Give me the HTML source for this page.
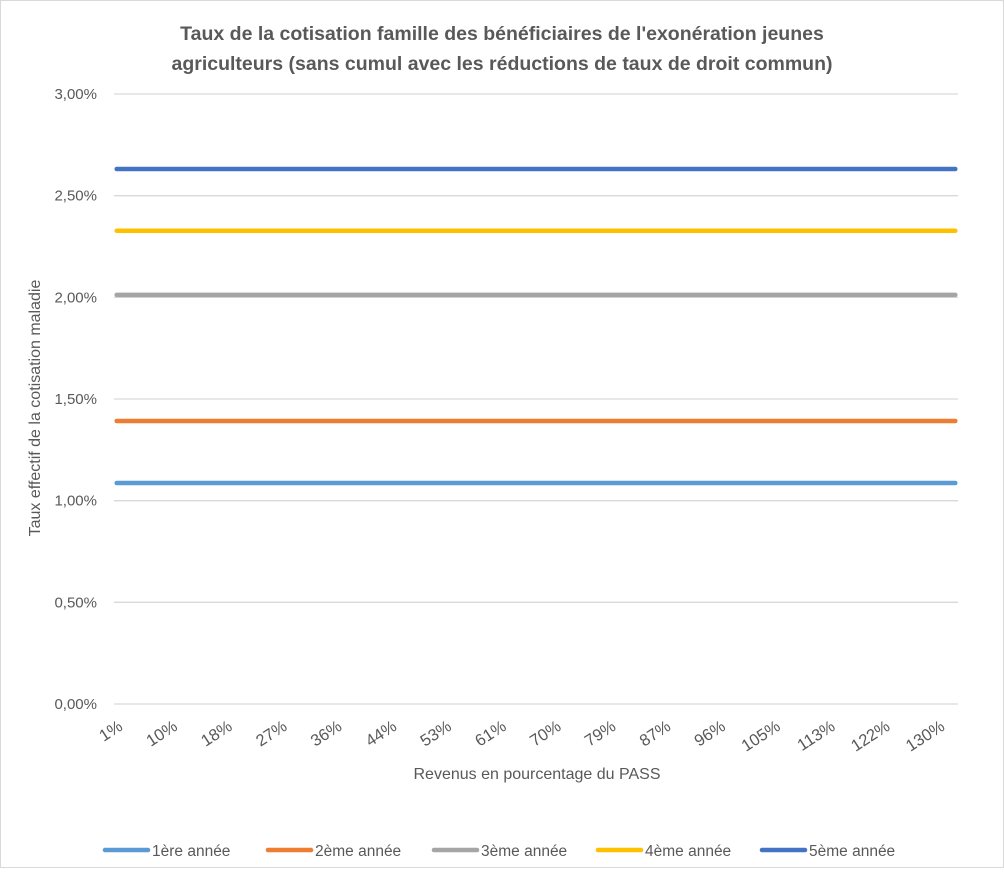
<!DOCTYPE html>
<html><head><meta charset="utf-8"><style>
body{margin:0;background:#fff}
#c{position:absolute;left:0;top:0;width:1004px;height:868px;font-family:"Liberation Sans",sans-serif}
</style></head><body>
<div id="c">
<svg id="s" width="1004" height="868" xmlns="http://www.w3.org/2000/svg">
<rect x="0.5" y="0.5" width="1003" height="867" fill="#fff" stroke="#d9d9d9"/>
<text x="502" y="40" text-anchor="middle" font-size="19.5" font-weight="bold" fill="#595959">Taux de la cotisation famille des bénéficiaires de l'exonération jeunes</text>
<text x="502" y="70" text-anchor="middle" font-size="19.5" font-weight="bold" fill="#595959">agriculteurs (sans cumul avec les réductions de taux de droit commun)</text>
<text transform="translate(40,408) rotate(-90)" text-anchor="middle" font-size="16" fill="#595959">Taux effectif de la cotisation maladie</text>
<text x="537" y="779" text-anchor="middle" font-size="16" fill="#595959">Revenus en pourcentage du PASS</text>
<g id="grid"></g><g id="yt"></g><g id="xt"></g><g id="lines"></g><g id="legend"></g>
</svg></div>
<script>
const yTicks=[0,0.5,1,1.5,2,2.5,3];
const xTickLabels=["1%","10%","18%","27%","36%","44%","53%","61%","70%","79%","87%","96%","105%","113%","122%","130%"];
const seriesNames=["1ère année","2ème année","3ème année","4ème année","5ème année"];
const seriesRates=[1.087,1.392,2.012,2.327,2.631];
const nCategories=154;
const labelEvery=10;
const colors=["#5b9bd5","#ed7d31","#a5a5a5","#ffc000","#4472c4"];
const NS="http://www.w3.org/2000/svg";
const X0=114,X1=958,Y0=704,Y1=94,YMAX=3;
const y=v=>Y0-(v/YMAX)*(Y0-Y1);
const step=(X1-X0)/nCategories;
const x=i=>X0+(i+0.5)*step;
function mk(t,a,p){const e=document.createElementNS(NS,t);for(const k in a)e.setAttribute(k,a[k]);p.appendChild(e);return e;}
const g=document.getElementById('grid'),yt=document.getElementById('yt'),xt=document.getElementById('xt'),ln=document.getElementById('lines'),lg=document.getElementById('legend');
yTicks.forEach(v=>{
 const l=mk('line',{x1:X0,x2:X1,y1:y(v),y2:y(v),stroke:'#d9d9d9','stroke-width':1.3},g);
 
 
 const t=mk('text',{x:97,y:y(v)+5,'text-anchor':'end','font-size':15,fill:'#595959'},yt);
 t.textContent=v.toFixed(2).replace('.',',')+'%';
 
 
});
xTickLabels.forEach((s,i)=>{
 const px=x(i*labelEvery);
 const t=mk('text',{transform:`translate(${px+7},${729}) rotate(-33)`,'text-anchor':'end','font-size':16.5,fill:'#595959'},xt);
 t.textContent=s;
 
 
});
seriesRates.forEach((r,si)=>{
 const vals=new Array(nCategories).fill(r);
 const pts=vals.map((v,i)=>x(i).toFixed(1)+','+y(v).toFixed(1)).join(' ');
 const p=mk('polyline',{points:pts,fill:'none',stroke:colors[si],'stroke-width':4.5,'stroke-linecap':'round'},ln);
 
 
 const lx=[105,268,434,598,762][si];
 const ll=mk('line',{x1:lx,x2:lx+43,y1:850,y2:850,stroke:colors[si],'stroke-width':4.5,'stroke-linecap':'round'},lg);
 
 
 const lt=mk('text',{x:lx+47,y:856,'font-size':15.5,fill:'#595959'},lg);
 lt.textContent=seriesNames[si];
 
 
});
</script>
</body></html>
